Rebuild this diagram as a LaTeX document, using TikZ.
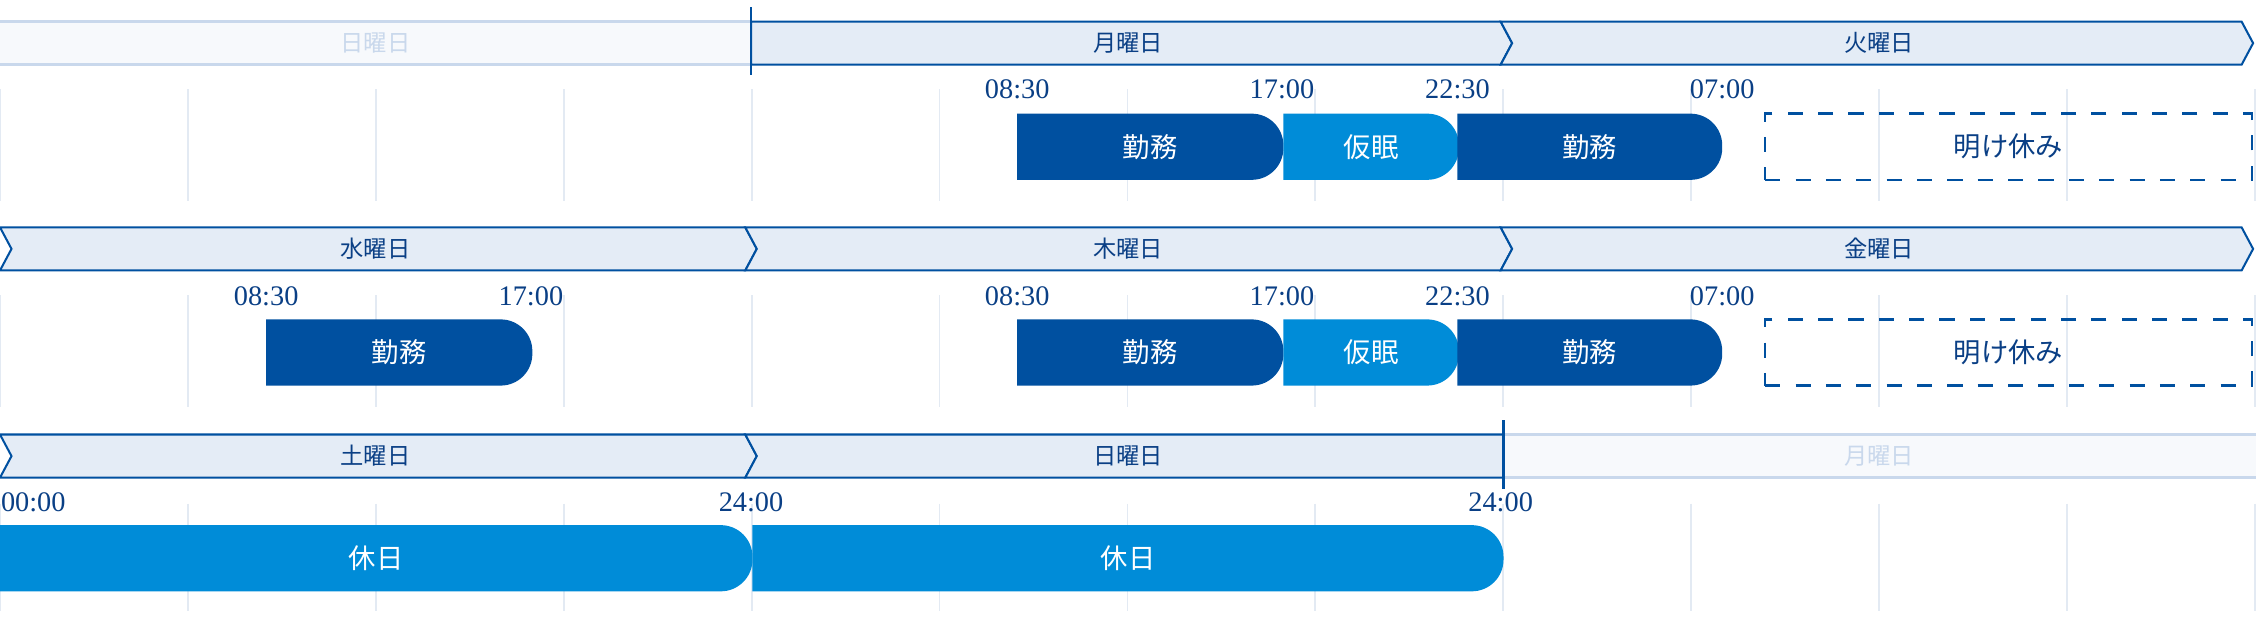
\documentclass[tikz,border=0pt]{standalone}
\usepackage{fontspec}
\setmainfont{Liberation Serif}
\newfontfamily\jp{Noto Sans CJK JP}
\definecolor{navy}{HTML}{0050A0}
\definecolor{sky}{HTML}{008CD8}
\definecolor{band}{HTML}{E4ECF6}
\definecolor{faint}{HTML}{F7F9FC}
\definecolor{faintline}{HTML}{C9D8EC}
\definecolor{grid}{HTML}{E3EAF3}
\definecolor{ink}{HTML}{0A3F85}

% bar with rounded right end
\newcommand{\shiftbar}[6]{%
  \fill[#5] (#2,#4) {[rounded corners=0.22cm] -- (#3,#4) -- (#3,#4+46)} -- (#2,#4+46) -- cycle;
  \node (#1) [bartext] at ({(#2+#3)/2},#4+23) {#6};}

\begin{document}
\begin{tikzpicture}[x=0.01cm,y=-0.01cm]
    \tikzset{
      daylabel/.style={font=\jp\fontsize{4.6}{5}\selectfont, text=ink},
      fadelabel/.style={font=\jp\fontsize{4.6}{5}\selectfont, text=faintline},
      timelabel/.style={font=\fontsize{5.6}{6}\selectfont, text=ink, inner sep=0pt},
      bartext/.style={font=\jp\fontsize{5.4}{6}\selectfont, text=white},
      tab/.style={draw=navy, line width=0.4pt, fill=band},
      gridline/.style={grid, line width=0.35pt}
    }
    \useasboundingbox (0,0) rectangle (1568,440.6);

    % grid
    \foreach \i in {0,...,12} {
      \draw[gridline] (130.6*\i,62) -- (130.6*\i,140);
      \draw[gridline] (130.6*\i,205) -- (130.6*\i,283);
      \draw[gridline] (130.6*\i,350) -- (130.6*\i,425);
    }

    % day tabs, row 1
    \fill[faint] (0,15) rectangle (522,45);
    \draw[faintline, line width=0.5pt] (0,15) -- (522,15) (0,45) -- (522,45);
    \node (sun0) [fadelabel] at (261,30) {日曜日};
    \draw[tab] (522,15) -- (1043,15) -- (1051,30) -- (1043,45) -- (522,45) -- cycle;
    \node (mon1) [daylabel] at (784,30) {月曜日};
    \draw[tab] (1043,15) -- (1558,15) -- (1566,30) -- (1558,45) -- (1043,45) -- (1051,30) -- cycle;
    \node (tue1) [daylabel] at (1306,30) {火曜日};
    \draw[navy, line width=0.5pt] (522,5) -- (522,52);

    % day tabs, row 2
    \draw[tab] (0,158) -- (518,158) -- (526,173) -- (518,188) -- (0,188) -- (8,173) -- cycle;
    \node (wed2) [daylabel] at (261,173) {水曜日};
    \draw[tab] (518,158) -- (1043,158) -- (1051,173) -- (1043,188) -- (518,188) -- (526,173) -- cycle;
    \node (thu2) [daylabel] at (784,173) {木曜日};
    \draw[tab] (1043,158) -- (1558,158) -- (1566,173) -- (1558,188) -- (1043,188) -- (1051,173) -- cycle;
    \node (fri2) [daylabel] at (1306,173) {金曜日};

    % day tabs, row 3
    \draw[tab] (0,302) -- (518,302) -- (526,317) -- (518,332) -- (0,332) -- (8,317) -- cycle;
    \node (sat3) [daylabel] at (261,317) {土曜日};
    \draw[tab] (518,302) -- (1045,302) -- (1045,332) -- (518,332) -- (526,317) -- cycle;
    \node (sun3) [daylabel] at (784,317) {日曜日};
    \fill[faint] (1045,302) rectangle (1568,332);
    \draw[faintline, line width=0.5pt] (1045,302) -- (1568,302) (1045,332) -- (1568,332);
    \node (mon3) [fadelabel] at (1306,317) {月曜日};
    \draw[navy, line width=0.5pt] (1045,292) -- (1045,340);

    % row 1
    \node (t1a) [timelabel] at (707,62) {08:30};
    \node (t1b) [timelabel] at (891,62) {17:00};
    \node (t1c) [timelabel] at (1013,62) {22:30};
    \node (t1d) [timelabel] at (1197,62) {07:00};
    \shiftbar{duty1a}{707}{892}{79}{navy}{勤務}
    \shiftbar{nap1}{892}{1014}{79}{sky}{仮眠}
    \shiftbar{duty1b}{1013}{1197}{79}{navy}{勤務}
    \node (off1) [draw=navy, dashed, line width=0.45pt, minimum width=3.38cm, minimum height=0.46cm,
      font=\jp\fontsize{5.4}{6}\selectfont, text=ink] at (1396,102) {明け休み};

    % row 2
    \node (t2a) [timelabel] at (185,206) {08:30};
    \node (t2b) [timelabel] at (369,206) {17:00};
    \node (t2c) [timelabel] at (707,206) {08:30};
    \node (t2d) [timelabel] at (891,206) {17:00};
    \node (t2e) [timelabel] at (1013,206) {22:30};
    \node (t2f) [timelabel] at (1197,206) {07:00};
    \shiftbar{duty2a}{185}{370}{222}{navy}{勤務}
    \shiftbar{duty2b}{707}{892}{222}{navy}{勤務}
    \shiftbar{nap2}{892}{1014}{222}{sky}{仮眠}
    \shiftbar{duty2c}{1013}{1197}{222}{navy}{勤務}
    \node (off2) [draw=navy, dashed, line width=0.45pt, minimum width=3.38cm, minimum height=0.46cm,
      font=\jp\fontsize{5.4}{6}\selectfont, text=ink] at (1396,245) {明け休み};

    % row 3
    \node (t3a) [timelabel, anchor=west] at (0,349) {00:00};
    \node (t3b) [timelabel] at (522,349) {24:00};
    \node (t3c) [timelabel] at (1043,349) {24:00};
    \shiftbar{hol3a}{0}{523}{365}{sky}{休日}
    \shiftbar{hol3b}{523}{1045}{365}{sky}{休日}
\end{tikzpicture}
\end{document}
